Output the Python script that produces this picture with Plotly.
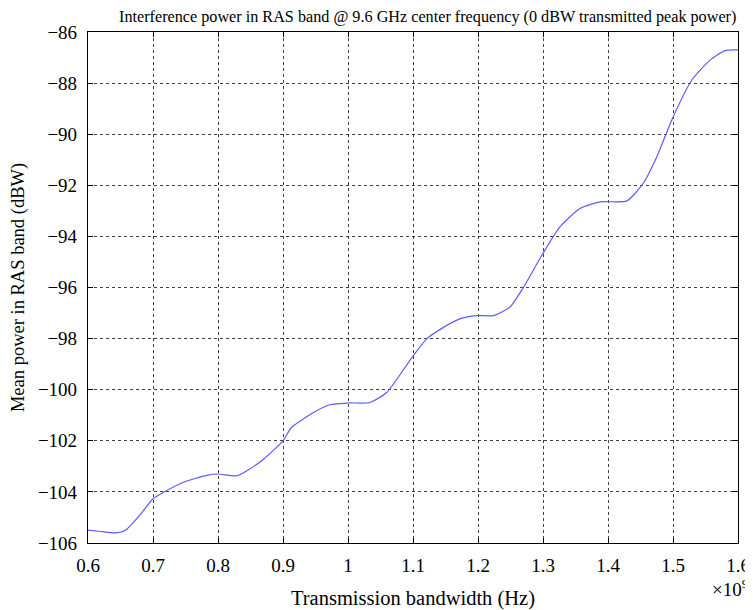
import plotly.graph_objects as go

# Transmission bandwidth in units of 1e9 Hz
bandwidth = [0.600, 0.620, 0.640, 0.650, 0.660, 0.680, 0.700, 0.715, 0.746, 0.783, 0.800,
             0.829, 0.844, 0.870, 0.900, 0.913, 0.947, 0.972, 1.000, 1.034, 1.060,
             1.095, 1.121, 1.147, 1.172, 1.198, 1.224, 1.249, 1.270, 1.298, 1.326,
             1.357, 1.388, 1.429, 1.454, 1.475, 1.498, 1.529, 1.557, 1.580, 1.595, 1.600]
mean_power = [-105.50, -105.55, -105.60, -105.58, -105.45, -104.90, -104.27, -104.03, -103.63,
              -103.35, -103.30, -103.37, -103.18, -102.72, -102.00, -101.48, -100.89,
              -100.59, -100.52, -100.50, -100.10, -98.86, -98.01, -97.56, -97.23,
              -97.10, -97.10, -96.77, -95.99, -94.75, -93.63, -92.91, -92.65, -92.61,
              -91.93, -90.89, -89.45, -87.88, -87.10, -86.73, -86.70, -86.70]

x_ticks = [0.6, 0.7, 0.8, 0.9, 1.0, 1.1, 1.2, 1.3, 1.4, 1.5, 1.6]
x_tick_labels = ["0.6", "0.7", "0.8", "0.9", "1", "1.1", "1.2", "1.3", "1.4", "1.5", "1.6"]
y_ticks = [-106, -104, -102, -100, -98, -96, -94, -92, -90, -88, -86]

title_text = "Interference power in RAS band @ 9.6 GHz center frequency (0 dBW transmitted peak power)"
x_title = "Transmission bandwidth (Hz)"
y_title = "Mean power in RAS band (dBW)"

font_family = "Liberation Serif"

fig = go.Figure()
fig.add_trace(go.Scatter(
    x=bandwidth, y=mean_power, mode="lines",
    line=dict(color="#5c5cff", width=1.2, shape="spline", smoothing=0.6),
    showlegend=False, hoverinfo="skip"))

axis_common = dict(
    showline=True, linecolor="black", linewidth=1.2, mirror="ticks",
    ticks="inside", ticklen=5, tickcolor="black",
    showgrid=True, gridcolor="rgba(0,0,0,0.75)", gridwidth=1, griddash="3px,3px",
    zeroline=False, tickfont=dict(family=font_family, size=19, color="black"),
    automargin=False,
)

fig.update_xaxes(range=[0.6, 1.6], tickvals=x_ticks, ticktext=x_tick_labels,
                 title=dict(text=x_title, font=dict(family=font_family, size=20.5, color="black"),
                            standoff=16),
                 ticklabelstandoff=5, **axis_common)
fig.update_yaxes(range=[-106, -86], tickvals=y_ticks,
                 title=dict(text=y_title, font=dict(family=font_family, size=18.5, color="black"),
                            standoff=8),
                 ticklabelstandoff=6, **axis_common)

fig.add_annotation(text=title_text, xref="paper", yref="paper", x=0.523, y=1.0,
                   xanchor="center", yanchor="bottom", yshift=4, showarrow=False,
                   font=dict(family=font_family, size=16.2, color="black"))
fig.add_annotation(text="×10<sup>9</sup>", xref="paper", yref="paper", x=1.0, y=0,
                   xanchor="left", yanchor="top", xshift=-28, yshift=-31, showarrow=False,
                   font=dict(family=font_family, size=19, color="black"))

# the page adds an 8px body margin, so the figure is 8px smaller than the window
fig.update_layout(
    width=745, height=602,
    margin=dict(l=80, r=15, t=24, b=67),
    plot_bgcolor="white", paper_bgcolor="white",
    font=dict(family=font_family, color="black"),
)

fig.write_html("out.html")
